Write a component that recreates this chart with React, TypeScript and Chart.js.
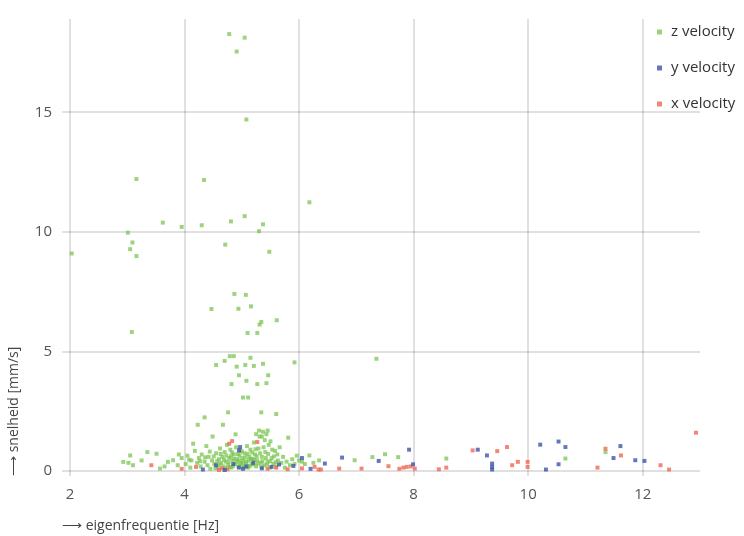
import React, { useEffect, useRef } from "react";
import { Chart, registerables } from "chart.js";

Chart.register(...registerables);

const seriesLabels = ["z velocity", "y velocity", "x velocity"];
const seriesColors = ["rgba(118,196,76,0.72)", "rgba(62,84,170,0.8)", "rgba(240,104,84,0.8)"];

const xTicks = [2, 4, 6, 8, 10, 12];
const yTicks = [0, 5, 10, 15];

// [frequency Hz, velocity mm/s]
const zPoints: [number, number][] = [
  [2.03, 9.1], [3.16, 12.21], [3.01, 9.97], [3.09, 9.56], [3.05, 9.28], [3.16, 8.99], [3.08, 5.82],
  [3.62, 10.39], [3.95, 10.21], [4.3, 10.28], [4.34, 12.17], [4.78, 18.27], [5.05, 18.12], [4.91, 17.54],
  [5.08, 14.7], [4.81, 10.44], [5.05, 10.66], [5.37, 10.32], [5.3, 10.03], [4.71, 9.47], [5.48, 9.17],
  [6.18, 11.24], [4.87, 7.41], [5.07, 7.37], [4.47, 6.78], [4.94, 6.79], [5.16, 6.89], [5.61, 6.31],
  [5.34, 6.24], [5.31, 6.13], [5.1, 5.78], [5.27, 5.78], [4.79, 4.81], [4.86, 4.81], [5.15, 4.74],
  [4.7, 4.61], [4.55, 4.44], [5.06, 4.44], [5.21, 4.4], [4.91, 4.37], [5.37, 4.49], [5.92, 4.55],
  [4.95, 4.01], [5.46, 4.01], [5.08, 3.78], [4.82, 3.64], [5.27, 3.64], [5.43, 3.68], [5.02, 3.08],
  [5.11, 3.08], [4.76, 2.46], [5.34, 2.46], [5.6, 2.39], [4.35, 2.25], [7.35, 4.7],
  [2.93, 0.39], [3.05, 0.66], [3.1, 0.25], [3.35, 0.8], [3.51, 0.73], [3.57, 0.11], [3.71, 0.39],
  [3.8, 0.46], [3.02, 0.35], [3.88, 0.25], [3.95, 0.55], [3.65, 0.2], [3.25, 0.45], [3.9, 0.7],
  [4.02, 0.3], [4.05, 0.65], [4.1, 0.15], [4.12, 0.45], [4.18, 0.85], [4.22, 0.35], [4.25, 0.55],
  [4.28, 0.2], [4.3, 0.7], [4.35, 0.4], [4.38, 1.05], [4.4, 0.25], [4.42, 0.6], [4.45, 0.1],
  [4.48, 0.45], [4.23, 1.94], [4.49, 1.45], [4.15, 1.15], [4.44, 0.82], [4.36, 0.58], [4.27, 0.42],
  [4.08, 0.48],
  [4.52, 0.3], [4.55, 0.75], [4.58, 0.15], [4.6, 0.5], [4.62, 0.95], [4.64, 0.35], [4.67, 1.94],
  [4.66, 0.6], [4.68, 0.2], [4.7, 0.8], [4.72, 0.4], [4.74, 1.1], [4.76, 0.25], [4.78, 0.55],
  [4.8, 0.9], [4.82, 0.15], [4.84, 0.45], [4.86, 0.7], [4.88, 0.3], [4.89, 1.54], [4.9, 1.0],
  [4.92, 0.5], [4.94, 0.2], [4.96, 0.65], [4.98, 0.85], [4.99, 0.35],
  [4.51, 0.62], [4.54, 0.12], [4.57, 0.42], [4.61, 0.28], [4.63, 0.72], [4.69, 0.48], [4.71, 0.12],
  [4.73, 0.65], [4.77, 0.38], [4.79, 0.18], [4.81, 0.62], [4.83, 0.78], [4.85, 0.22], [4.87, 0.52],
  [4.91, 0.38], [4.93, 0.72], [4.95, 0.45], [4.97, 0.28],
  [5.01, 0.55], [5.03, 0.25], [5.05, 0.75], [5.07, 0.4], [5.09, 1.05], [5.11, 0.15], [5.13, 0.6],
  [5.15, 0.9], [5.17, 0.3], [5.19, 0.5], [5.21, 1.2], [5.23, 0.7], [5.25, 0.2], [5.27, 0.45],
  [5.29, 0.95], [5.31, 1.45], [5.33, 0.35], [5.35, 0.6], [5.37, 1.65], [5.39, 0.25], [5.41, 0.8],
  [5.43, 1.55], [5.45, 0.4], [5.47, 1.1], [5.49, 0.15], [5.3, 1.7], [5.4, 1.3],
  [5.0, 0.82], [5.02, 0.42], [5.04, 0.15], [5.06, 0.58], [5.08, 0.32], [5.1, 0.72], [5.12, 0.45],
  [5.14, 0.22], [5.16, 0.52], [5.18, 0.78], [5.2, 0.28], [5.22, 0.48], [5.24, 0.92], [5.26, 0.62],
  [5.28, 0.32], [5.32, 0.75], [5.34, 0.18], [5.36, 0.42], [5.38, 1.0], [5.42, 0.55], [5.44, 0.28],
  [5.46, 0.72], [5.35, 1.45], [5.45, 1.7], [5.25, 1.55], [5.5, 1.25],
  [5.5, 0.42], [5.53, 0.9], [5.56, 0.62], [5.59, 0.38], [5.62, 0.7],
  [5.52, 0.55], [5.55, 0.3], [5.58, 0.85], [5.6, 0.2], [5.63, 0.45], [5.66, 1.0], [5.69, 0.35],
  [5.72, 0.6], [5.75, 0.15], [5.78, 0.4], [5.81, 1.4], [5.84, 0.25], [5.88, 0.5], [5.92, 0.3],
  [5.96, 0.65], [6.0, 0.45], [6.05, 0.4], [6.1, 0.3], [6.18, 0.66], [6.25, 0.35], [6.35, 0.45],
  [6.97, 0.46], [7.28, 0.59], [7.5, 0.71], [7.73, 0.59], [8.57, 0.53], [10.65, 0.53], [11.35, 0.8],
];

const yPoints: [number, number][] = [
  [4.32, 0.07], [4.95, 0.87], [4.97, 1.01], [4.95, 0.15], [5.02, 0.1], [5.08, 0.2], [5.52, 0.18],
  [4.55, 0.25], [4.85, 0.3], [5.2, 0.35], [5.35, 0.12], [5.65, 0.28], [5.9, 0.22], [4.7, 0.05],
  [6.45, 0.32], [6.75, 0.57], [7.39, 0.43], [7.92, 0.9], [7.99, 0.29], [9.12, 0.9], [9.28, 0.66],
  [9.37, 0.32], [9.37, 0.18], [9.37, 0.07], [10.21, 1.11], [10.31, 0.07], [10.53, 1.24], [10.53, 0.29],
  [10.65, 1.01], [11.49, 0.55], [11.61, 1.05], [11.87, 0.46], [12.03, 0.43], [6.05, 0.55], [6.2, 0.1],
];

const xPoints: [number, number][] = [
  [3.42, 0.25], [4.78, 1.15], [4.83, 1.26], [5.27, 1.22], [4.6, 0.05], [4.65, 0.12], [4.75, 0.08],
  [5.45, 0.1], [5.6, 0.15], [5.8, 0.08], [6.05, 0.12], [6.27, 0.18], [6.34, 0.07], [6.38, 0.07],
  [6.7, 0.11], [7.09, 0.11], [7.56, 0.21], [7.75, 0.1], [7.82, 0.15], [7.88, 0.18], [7.95, 0.2],
  [8.02, 0.11], [8.44, 0.08], [8.57, 0.15], [9.03, 0.87], [9.46, 0.84], [9.63, 1.01], [9.72, 0.25],
  [9.82, 0.39], [9.99, 0.39], [9.99, 0.18], [11.21, 0.15], [11.35, 0.94], [11.62, 0.66], [12.31, 0.25],
  [12.46, 0.07], [12.93, 1.61], [3.95, 0.1], [4.2, 0.18],
];

const seriesPoints = [zPoints, yPoints, xPoints];

const legendPlugin = {
  id: "insideLegend",
  afterDraw(chart: any) {
    const ctx = chart.ctx;
    ctx.save();
    chart.data.datasets.forEach((ds: any, i: number) => {
      const cy = 32 + i * 36;
      ctx.fillStyle = ds.backgroundColor;
      ctx.fillRect(657, cy - 2.5, 5, 5);
      ctx.fillStyle = "#333";
      ctx.font = '15px "Open Sans", sans-serif';
      ctx.textBaseline = "middle";
      ctx.textAlign = "left";
      ctx.fillText(ds.label, 671, cy);
    });
    ctx.restore();
  },
};

export default function App() {
  const ref = useRef<HTMLCanvasElement>(null);
  useEffect(() => {
    document.body.style.margin = "0";
    const chart = new Chart(ref.current!, {
      type: "scatter",
      data: {
        datasets: seriesLabels.map((label, i) => ({
          label,
          data: seriesPoints[i].map(([x, y]) => ({ x, y })),
          backgroundColor: seriesColors[i],
          borderColor: seriesColors[i],
          borderWidth: 0,
          pointStyle: "rect",
          pointRadius: 2.8,
          order: i === 0 ? 2 : 1,
        })),
      },
      options: {
        animation: false,
        responsive: false,
        layout: { padding: { top: 14, right: 44, left: 0, bottom: 0 } },
        plugins: { legend: { display: false }, tooltip: { enabled: false } },
        scales: {
          x: {
            type: "linear",
            min: 1.86,
            max: 13,
            afterBuildTicks: (s: any) => { s.ticks = xTicks.map((v) => ({ value: v })); },
            afterFit: (s: any) => { s.height = 60; },
            grid: { color: "rgba(0,0,0,0.12)", lineWidth: 2, drawTicks: false },
            border: { display: false },
            ticks: { padding: 10, color: "#555", font: { family: "'Open Sans'", size: 15 } },
            title: {
              display: true,
              text: "⟶ eigenfrequentie [Hz]",
              align: "start",
              color: "#444",
              font: { family: "'Open Sans'", size: 14 },
              padding: { top: 4, bottom: 2 },
            },
          },
          y: {
            type: "linear",
            min: -0.2,
            max: 18.9,
            afterBuildTicks: (s: any) => { s.ticks = yTicks.map((v) => ({ value: v })); },
            afterFit: (s: any) => { s.width = 62; },
            grid: { color: "rgba(0,0,0,0.12)", lineWidth: 2, drawTicks: false },
            border: { display: false },
            ticks: { padding: 10, color: "#555", font: { family: "'Open Sans'", size: 15 } },
            title: {
              display: true,
              text: "⟶ snelheid [mm/s]",
              align: "start",
              color: "#444",
              font: { family: "'Open Sans'", size: 14 },
              padding: { top: 6, bottom: 0 },
            },
          },
        },
      },
      plugins: [legendPlugin],
    });
    return () => chart.destroy();
  }, []);
  return (
    <div style={{ width: 744, height: 536 }}>
      <canvas ref={ref} width={744} height={536} style={{ display: "block" }} />
    </div>
  );
}
